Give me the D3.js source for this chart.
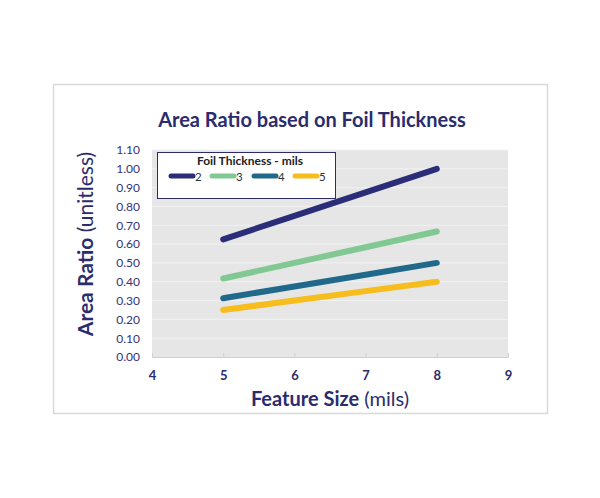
<!DOCTYPE html>
<html><head><meta charset="utf-8">
<script src="https://cdn.jsdelivr.net/npm/d3@7"></script>
<style>body{margin:0;background:#fff}svg{display:block}</style>
</head><body>
<svg id="c" width="600" height="498"></svg>
<script>
const featureSizes = [5, 6, 7, 8];
const seriesNames = ["2", "3", "4", "5"];
const series2 = [0.625, 0.75, 0.875, 1.00];
const series3 = [0.417, 0.50, 0.583, 0.667];
const series4 = [0.3125, 0.375, 0.4375, 0.50];
const series5 = [0.25, 0.30, 0.35, 0.40];
const xTicks = [4, 5, 6, 7, 8, 9];
const yTicks = [0, 0.1, 0.2, 0.3, 0.4, 0.5, 0.6, 0.7, 0.8, 0.9, 1.0, 1.1];
const colors = ["#2b2d78", "#82c893", "#21698a", "#f6bd1c"];
const allSeries = [series2, series3, series4, series5];

const navy = "#2b2c6e";
const font = "Lato, 'Open Sans', sans-serif";
const svg = d3.select("#c");

svg.append("rect").attr("x", 53.5).attr("y", 84.5).attr("width", 494).attr("height", 329)
  .attr("fill", "#fff").attr("stroke", "#d9d9d9").attr("stroke-width", 1.5);

const x = d3.scaleLinear().domain([4, 9]).range([152, 508]);
const y = d3.scaleLinear().domain([0, 1.1]).range([357, 150]);

svg.append("rect").attr("x", x(4)).attr("y", y(1.1)).attr("width", x(9) - x(4)).attr("height", y(0) - y(1.1))
  .attr("fill", "#e6e6e6");

// gridlines
svg.append("g").selectAll("line").data(yTicks.slice(1)).join("line")
  .attr("x1", x(4)).attr("x2", x(9)).attr("y1", d => y(d)).attr("y2", d => y(d))
  .attr("stroke", "#f2f2f2").attr("stroke-width", 1);

// x axis
const xAxis = svg.append("g").attr("transform", `translate(0,${y(0)})`)
  .call(d3.axisBottom(x).tickValues(xTicks).tickSize(-4).tickPadding(14).tickFormat(d3.format("d")));
xAxis.select(".domain").attr("stroke", "#d0d0d0");
xAxis.selectAll(".tick line").attr("stroke", "#d0d0d0");
xAxis.selectAll("text").attr("fill", navy).attr("font-family", font).attr("font-weight", "bold").attr("font-size", 13);

// y axis
const yAxis = svg.append("g").attr("transform", `translate(${x(4)},0)`)
  .call(d3.axisLeft(y).tickValues(yTicks).tickSize(0).tickPadding(12).tickFormat(d3.format(".2f")));
yAxis.select(".domain").remove();
yAxis.selectAll("text").attr("fill", "#33337a").attr("font-family", font).attr("font-size", 12);

// lines
const line = d3.line().x((d, i) => x(featureSizes[i])).y(d => y(d));
svg.append("g").selectAll("path").data(allSeries).join("path")
  .attr("d", d => line(d)).attr("fill", "none")
  .attr("stroke", (d, i) => colors[i]).attr("stroke-width", 6).attr("stroke-linecap", "round");

// title
svg.append("text").attr("x", 312).attr("y", 127).attr("text-anchor", "middle")
  .attr("fill", navy).attr("font-family", font).attr("font-weight", "bold").attr("font-size", 20)
  .text("Area Ratio based on Foil Thickness");

// x label
const xl = svg.append("text").attr("x", 330).attr("y", 406).attr("text-anchor", "middle")
  .attr("fill", navy).attr("font-family", font).attr("font-size", 20);
xl.append("tspan").attr("font-weight", "bold").text("Feature Size");
xl.append("tspan").text(" (mils)");

// y label
const yl = svg.append("text").attr("transform", "translate(93,244) rotate(-90)").attr("text-anchor", "middle")
  .attr("fill", navy).attr("font-family", font).attr("font-size", 21);
yl.append("tspan").attr("font-weight", "bold").text("Area Ratio");
yl.append("tspan").text(" (unitless)");

// legend
const lg = svg.append("g");
lg.append("rect").attr("x", 157.5).attr("y", 152.5).attr("width", 178).attr("height", 46)
  .attr("fill", "#fff").attr("stroke", navy).attr("stroke-width", 1);
lg.append("text").attr("x", 250).attr("y", 165).attr("text-anchor", "middle")
  .attr("fill", "#222").attr("font-family", font).attr("font-weight", "bold").attr("font-size", 12)
  .text("Foil Thickness - mils");
const legX = [171, 212, 254, 295];
seriesNames.forEach((n, i) => {
  lg.append("line").attr("x1", legX[i]).attr("x2", legX[i] + 22).attr("y1", 176).attr("y2", 176)
    .attr("stroke", colors[i]).attr("stroke-width", 5).attr("stroke-linecap", "round");
  lg.append("text").attr("x", legX[i] + 24).attr("y", 180.5).attr("fill", "#333")
    .attr("font-family", font).attr("font-size", 11.5).text(n);
});
</script>
</body></html>
